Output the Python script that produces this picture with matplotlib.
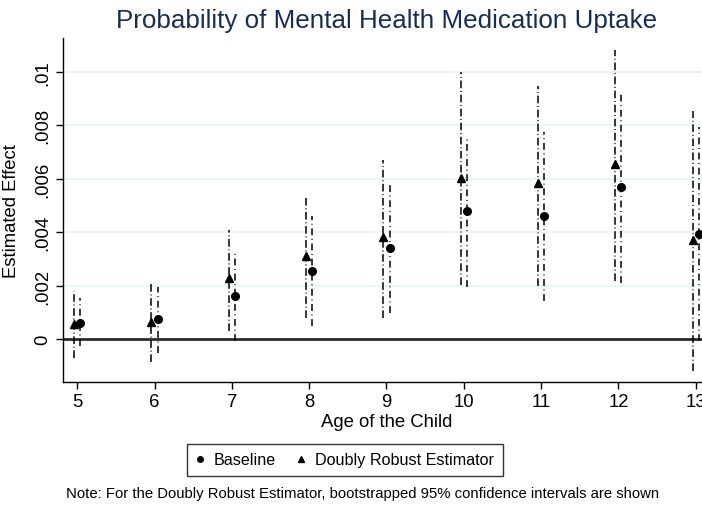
import matplotlib
matplotlib.use("Agg")
import matplotlib.pyplot as plt
from matplotlib.lines import Line2D

plt.rcParams['font.family'] = ['Liberation Sans', 'DejaVu Sans']

ages = [5, 6, 7, 8, 9, 10, 11, 12, 13]

base_est = [0.00062, 0.00075, 0.00160, 0.00256, 0.00343, 0.00480, 0.00462, 0.00570, 0.00393]
base_lo = [-0.00025, -0.00050, -0.00006, 0.00048, 0.00100, 0.00197, 0.00143, 0.00212, -0.00006]
base_hi = [0.00154, 0.00194, 0.00327, 0.00462, 0.00589, 0.00759, 0.00776, 0.00926, 0.00793]

dr_est = [0.00058, 0.00066, 0.00228, 0.00312, 0.00381, 0.00602, 0.00583, 0.00655, 0.00372]
dr_lo = [-0.00069, -0.00087, 0.00031, 0.00081, 0.00081, 0.00202, 0.00200, 0.00218, -0.00119]
dr_hi = [0.00181, 0.00210, 0.00408, 0.00530, 0.00670, 0.00999, 0.00946, 0.01083, 0.00855]

yticks = [0, 0.002, 0.004, 0.006, 0.008, 0.01]
ytick_labels = ['0', '.002', '.004', '.006', '.008', '.01']

W, H = 702, 506
fig = plt.figure(figsize=(W / 100, H / 100), dpi=100)

# plot region in pixels (left, top, right, bottom)
L, T, R, B = 63.3, 39.3, 709.6, 383.0
ax = fig.add_axes([L / W, 1 - B / H, (R - L) / W, (B - T) / H])

off = 0.04
x_dr = [a - off for a in ages]
x_base = [a + off for a in ages]

grid_c = '#eaf2f3'
for yv in yticks:
    ax.axhline(yv, color=grid_c, lw=1.2, zorder=0)
ax.axhline(0, color='#2b2b2b', lw=2.0, zorder=1)

ax.vlines(x_dr, dr_lo, dr_hi, colors='black', lw=1.1,
          linestyles=[(0, (5, 1.8, 0.6, 1.8))], zorder=2)
ax.vlines(x_base, base_lo, base_hi, colors='black', lw=1.1,
          linestyles=[(0, (4.5, 2.4, 0.6, 2.4))], zorder=2)

ax.plot(x_dr, dr_est, linestyle='none', marker='^', ms=6, color='black', zorder=3)
ax.plot(x_base, base_est, linestyle='none', marker='o', ms=5.5, color='black', zorder=3)

ax.set_xlim(4.82, 13.18)
ax.set_ylim(-0.0016, 0.01126)
ax.set_xticks(ages)
ax.set_xticklabels([str(a) for a in ages], fontsize=13.3)
ax.set_yticks(yticks)
ax.set_yticklabels(ytick_labels, fontsize=13.3, rotation=90, va='center')
ax.tick_params(axis='both', direction='out', length=5, width=1, color='black')
ax.tick_params(axis='x', pad=3)
ax.tick_params(axis='y', pad=4)

for s in ['top', 'right']:
    ax.spines[s].set_visible(False)
for s in ['left', 'bottom']:
    ax.spines[s].set_linewidth(1.0)
    ax.spines[s].set_color('black')

ax.set_xlabel('Age of the Child', fontsize=13.3, labelpad=2)
ax.set_ylabel('Estimated Effect', fontsize=13.3)
# anchor the rotated y label so its right side sits about 20 px from the figure edge
ax.yaxis.set_label_coords((20 - L) / (R - L), 0.5)

fig.text(387 / W, 1 - 21 / H, 'Probability of Mental Health Medication Uptake',
         ha='center', va='center', fontsize=18.7, color='#1a2b55')

handles = [
    Line2D([], [], linestyle='none', marker='o', ms=4, color='black', label='Baseline'),
    Line2D([], [], linestyle='none', marker='^', ms=4.5, color='black', label='Doubly Robust Estimator'),
]
leg = fig.legend(handles=handles, loc='center', bbox_to_anchor=(345 / W, 1 - 461 / H),
                 ncol=2, frameon=True, fancybox=False, fontsize=11.6,
                 handlelength=0.5, handletextpad=0.6, columnspacing=1.3,
                 borderpad=0.55, borderaxespad=0, edgecolor='black')
leg.get_frame().set_linewidth(1.0)

fig.text(363 / W, 1 - 494 / H,
         'Note: For the Doubly Robust Estimator, bootstrapped 95% confidence intervals are shown',
         ha='center', va='center', fontsize=10.7)

fig.savefig('out.png', dpi=100, facecolor='white')
